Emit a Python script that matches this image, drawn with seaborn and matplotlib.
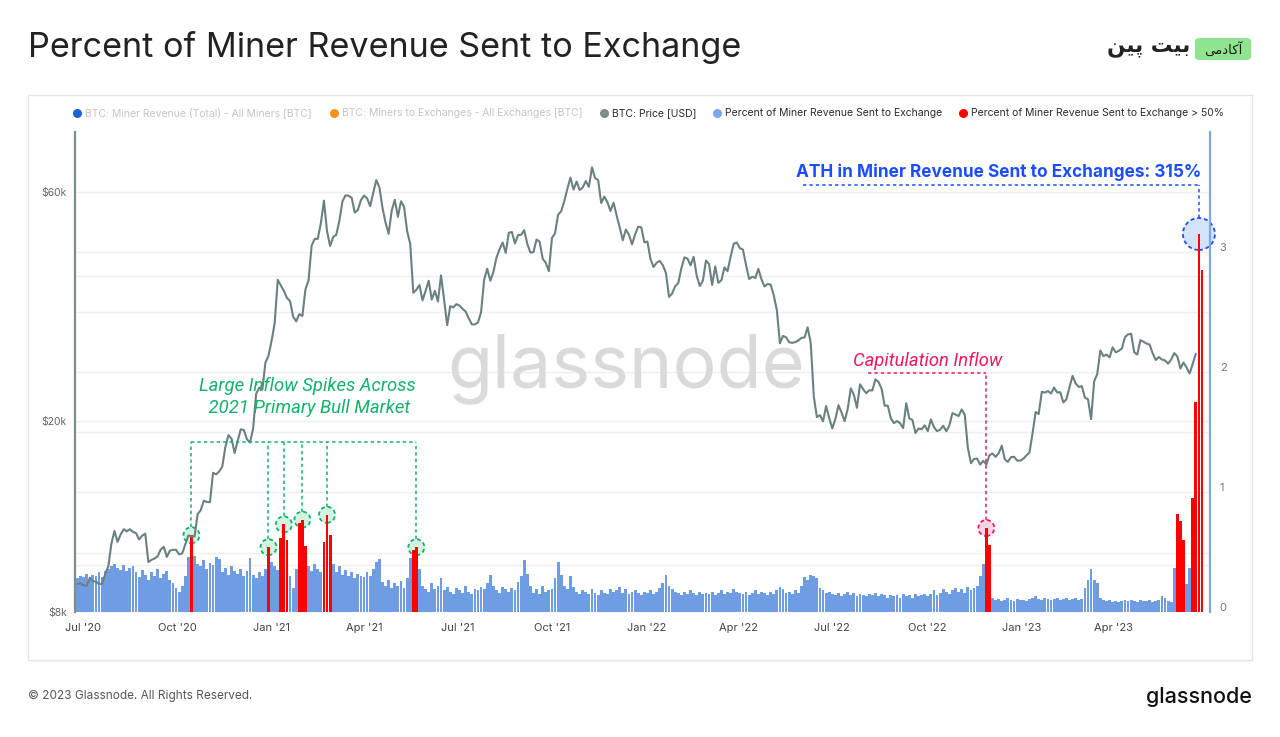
import numpy as np
import pandas as pd
import matplotlib
matplotlib.use("Agg")
import matplotlib.pyplot as plt
import matplotlib.dates as mdates
import matplotlib.transforms as mtransforms
from matplotlib.patches import Circle, FancyBboxPatch, Rectangle
from matplotlib.lines import Line2D
import seaborn as sns

# ---------------- data (3-day samples starting 2020-06-26) ----------------
START = "2020-06-26"
STEP = "3D"

btc_price = [
    9150, 9180,
    9090, 9070, 9430, 9280, 9250, 9150, 9160, 9600, 9950, 11100,
    11800, 11200, 11600, 11900, 11780, 11900, 11750, 11680, 11330, 11540, 11650,
    10170, 10270, 10340, 10450, 10790, 10940, 10420, 10740, 10780, 10780,
    10550, 10600, 11060, 11550, 11500, 11490, 12800, 13030, 13650, 13560,
    13550, 15600, 15480, 15700, 16070, 17650, 18680, 18370, 17150, 18180,
    19220, 19150, 18320, 18040, 19270, 22800, 23480, 23240, 26440, 27360,
    29370, 31970, 39370, 38350, 37320, 36070, 35550, 33000, 32260, 33400, 33100,
    37620, 39260, 46400, 47900, 47940, 51680, 57540, 49700, 46300,
    48370, 48850, 52250, 57330, 59040, 58910, 58340, 54340, 55030, 57700,
    58970, 58200, 56050, 59770, 63500, 61340, 55620, 51760, 49100, 54900,
    57800, 53250, 57360, 55860, 49700, 46760, 37000, 37540, 38400, 35680, 37340,
    39190, 35800, 37340, 35480, 40220, 35800, 31680, 34700, 34480, 35040,
    34790, 34240, 33800, 32730, 31800, 31780, 32100, 33700, 39400, 41500,
    39200, 40870, 43800, 45580, 47080, 44800, 49320, 49530, 46860, 48810,
    48850, 49940, 46800, 44870, 44960, 47750, 47290, 43570, 42700, 41030,
    48100, 49210, 53800, 54700, 57400, 60860, 64300, 60700, 63080, 60600, 61300,
    63230, 61480, 67550, 64150, 63540, 56900, 58700, 57140, 54770, 57000,
    53600, 50580, 47600, 50100, 48880, 46690, 48940, 50800, 50640, 47120,
    47300, 43430, 41860, 42740, 43100, 42200, 40680, 36280, 36850, 38170,
    38740, 41570, 43840, 43570, 42200, 43950, 40120, 38230, 39210, 43190,
    42450, 38420, 41980, 38810, 39280, 41770, 41030, 43970, 46820, 47070,
    45830, 45500, 42280, 39530, 39960, 39710, 41500, 39470, 38120, 38590,
    38470, 36550, 34060, 29030, 30080, 29880, 29180, 29100, 29200, 29440,
    29800, 29860, 31350, 29090, 22480, 20380, 20570, 19970, 21490, 20270,
    19300, 20190, 21580, 20840, 19980, 21190, 23390, 22680, 21300, 23850, 23300,
    22850, 23170, 23160, 24420, 24120, 23350, 21520, 21530, 20260, 19800,
    19990, 19790, 19320, 21770, 20240, 20110, 18880, 19290, 19220, 19590,
    19040, 20150, 19420, 19050, 19180, 19550, 19040, 19570, 20770, 20630,
    20480, 21140, 20600, 17590, 16330, 16670, 16700, 16230, 16520, 16220,
    16970, 17110, 16840, 17130, 17770, 16630, 16440, 16820, 16840, 16540, 16540,
    16680, 16950, 17190, 18850, 20880, 20680, 23000, 22920, 23080, 22830,
    23480, 22930, 22960, 21860, 22200, 23530, 24830, 23940, 23550,
    23640, 22360, 22200, 20180, 24200, 25050, 28040, 27300, 27490, 27140, 28480,
    27800, 28000, 28330, 29900, 30300, 30400, 27820, 27510, 29480, 29250,
    28990, 28860, 27650, 26800, 27180, 26850, 26750, 26330, 26870, 27700,
    27250, 25730, 26480, 25850, 25120, 26340, 27600,
]

pct_sent = [
    0.28, 0.30,
    0.29, 0.32, 0.27, 0.31, 0.30, 0.33, 0.29, 0.34, 0.36, 0.38,
    0.40, 0.37, 0.35, 0.39, 0.34, 0.37, 0.38, 0.33, 0.29, 0.35, 0.31,
    0.27, 0.33, 0.30, 0.36, 0.28, 0.32, 0.34, 0.27, 0.24, 0.20,
    0.17, 0.22, 0.30, 0.46, 0.64, 0.47, 0.40, 0.38, 0.43, 0.36,
    0.41, 0.39, 0.46, 0.44, 0.33, 0.37, 0.31, 0.38, 0.34, 0.32,
    0.36, 0.30, 0.34, 0.45, 0.31, 0.28, 0.33, 0.30, 0.36, 0.54,
    0.42, 0.38, 0.35, 0.62, 0.73, 0.60, 0.30, 0.20, 0.36, 0.74, 0.77,
    0.55, 0.38, 0.34, 0.40, 0.36, 0.33, 0.58, 0.81, 0.64,
    0.40, 0.33, 0.38, 0.31, 0.35, 0.30, 0.33, 0.28, 0.32, 0.30,
    0.29, 0.33, 0.30, 0.36, 0.42, 0.44, 0.25, 0.22, 0.27, 0.20,
    0.24, 0.22, 0.26, 0.20, 0.28, 0.45, 0.52, 0.54, 0.36, 0.22, 0.19,
    0.17, 0.24, 0.19, 0.22, 0.28, 0.18, 0.21, 0.17, 0.15, 0.20,
    0.18, 0.16, 0.22, 0.17, 0.15, 0.19, 0.18, 0.21, 0.19, 0.24,
    0.31, 0.22, 0.18, 0.16, 0.21, 0.19, 0.17, 0.20, 0.18, 0.25,
    0.30, 0.43, 0.32, 0.22, 0.16, 0.19, 0.15, 0.22, 0.17, 0.18,
    0.19, 0.28, 0.42, 0.31, 0.22, 0.19, 0.30, 0.21, 0.17, 0.15, 0.18,
    0.17, 0.15, 0.19, 0.16, 0.14, 0.18, 0.16, 0.15, 0.19, 0.17,
    0.18, 0.21, 0.16, 0.19, 0.15, 0.17, 0.18, 0.16, 0.14, 0.17,
    0.16, 0.18, 0.15, 0.17, 0.20, 0.24, 0.31, 0.22, 0.19, 0.17,
    0.16, 0.14, 0.17, 0.15, 0.18, 0.16, 0.14, 0.17, 0.15, 0.16,
    0.15, 0.17, 0.14, 0.16, 0.18, 0.15, 0.17, 0.16, 0.19, 0.17,
    0.16, 0.15, 0.17, 0.14, 0.16, 0.18, 0.15, 0.17, 0.16, 0.14,
    0.17, 0.15, 0.18, 0.21, 0.19, 0.16, 0.17, 0.15, 0.18, 0.16,
    0.22, 0.29, 0.27, 0.31, 0.30, 0.28, 0.20, 0.18, 0.16, 0.17,
    0.15, 0.14, 0.16, 0.13, 0.15, 0.17, 0.14, 0.16, 0.13, 0.15, 0.14,
    0.13, 0.15, 0.14, 0.16, 0.13, 0.15, 0.14, 0.12, 0.14, 0.13,
    0.14, 0.12, 0.15, 0.13, 0.14, 0.12, 0.15, 0.13, 0.14, 0.15,
    0.13, 0.15, 0.18, 0.14, 0.16, 0.19, 0.17, 0.15, 0.18, 0.20,
    0.17, 0.19, 0.16, 0.21, 0.18, 0.20, 0.22, 0.30, 0.40, 0.70,
    0.56, 0.12, 0.10, 0.11, 0.09, 0.10, 0.12, 0.10, 0.09, 0.11, 0.10,
    0.10, 0.09, 0.11, 0.12, 0.13, 0.11, 0.10, 0.12, 0.11, 0.10,
    0.11, 0.12, 0.10, 0.11, 0.12, 0.10, 0.11, 0.12, 0.10,
    0.11, 0.20, 0.27, 0.36, 0.27, 0.24, 0.12, 0.10, 0.09, 0.10, 0.08,
    0.09, 0.08, 0.09, 0.10, 0.09, 0.10, 0.09, 0.08, 0.10, 0.09,
    0.09, 0.10, 0.08, 0.09, 0.10, 0.13, 0.12, 0.09, 0.08, 0.37,
    0.82, 0.76, 0.60, 0.23, 0.37, 0.95, 1.75, 3.15, 2.85,
]

THRESHOLD = 0.5
price_ticks = [8000, 20000, 60000]
price_tick_labels = ["$8k", "$20k", "$60k"]
price_grid = [10000, 10600, 19000, 20000, 33700, 40000, 60000]
pct_ticks = [0, 1, 2, 3]
x_tick_dates = pd.date_range("2020-07-01", "2023-04-01", freq="QS")

legend_labels = [
    "BTC: Miner Revenue (Total) - All Miners [BTC]",
    "BTC: Miners to Exchanges - All Exchanges [BTC]",
    "BTC: Price [USD]",
    "Percent of Miner Revenue Sent to Exchange",
    "Percent of Miner Revenue Sent to Exchange > 50%",
]
bull_spike_dates = ["2020-10-15", "2020-12-29", "2021-01-13", "2021-01-31", "2021-02-24", "2021-05-22"]
capitulation_date = "2022-11-28"

price_dates = pd.date_range(START, periods=len(btc_price), freq=STEP)
pct_dates = pd.date_range(START, periods=len(pct_sent), freq=STEP)

# ---------------- style ----------------
sns.set_theme(style="white")
plt.rcParams["font.family"] = ["Inter", "DejaVu Sans"]

BLUE = "#6f9de3"
RED = "#ff0000"
PRICE_C = "#6b8081"
GRID_C = "#efefef"
GREEN = "#14b16b"
PINK = "#f0195c"
ATH_BLUE = "#1a4fff"

W, H = 1280, 737
fig = plt.figure(figsize=(12.8, 7.37), dpi=100)
fig.patch.set_facecolor("white")


def fx(px):
    return px / W


def fy(py):
    return 1 - py / H


# outer container
fig.patches.append(Rectangle((fx(28), fy(660)), fx(1252) - fx(28), fy(95) - fy(660),
                             transform=fig.transFigure, fill=False, edgecolor="#e4e4e4", lw=1))

PL, PR, PT, PB = 75, 1210, 132, 612
ax_bar = fig.add_axes([fx(PL), fy(PB), fx(PR) - fx(PL), fy(PT) - fy(PB)])
ax_price = ax_bar.twinx()
ax_price.set_zorder(ax_bar.get_zorder() + 1)
ax_price.patch.set_visible(False)

# bars
vals = np.array(pct_sent)
colors = np.where(vals > THRESHOLD, RED, BLUE)
ax_bar.bar(pct_dates, vals, width=2.75, color=colors, linewidth=0, zorder=2)
ax_bar.set_ylim(0, 4)

# price line
sns.lineplot(x=price_dates, y=btc_price, ax=ax_price, color=PRICE_C, linewidth=1.5)
ax_price.set_yscale("log")
ax_price.set_ylim(8000, 80000)

xmin = pd.Timestamp("2020-06-23 14:00")
xmax = pd.Timestamp("2023-07-03 19:00")
ax_bar.set_xlim(xmin, xmax)

# grid
for v in pct_ticks[1:]:
    ax_bar.axhline(v, color=GRID_C, lw=1, zorder=0.5)
gtrans = mtransforms.blended_transform_factory(ax_bar.transAxes, ax_price.transData)
for v in price_grid:
    ax_bar.plot([0, 1], [v, v], transform=gtrans, color=GRID_C, lw=1, zorder=0.5)
ax_bar.set_ylim(0, 4)

# ticks
ax_price.yaxis.tick_left()
ax_price.yaxis.set_label_position("left")
ax_price.yaxis.set_major_locator(matplotlib.ticker.FixedLocator(price_ticks))
ax_price.yaxis.set_major_formatter(matplotlib.ticker.FixedFormatter(price_tick_labels))
ax_price.yaxis.set_minor_locator(matplotlib.ticker.NullLocator())
ax_price.tick_params(axis="y", length=0, labelsize=7.5, labelcolor="#666666", pad=6)
ax_price.set_ylabel("")
ax_price.set_xlabel("")

ax_bar.yaxis.tick_right()
ax_bar.set_yticks(pct_ticks)
ax_bar.set_yticklabels([str(t) for t in pct_ticks])
ax_bar.tick_params(axis="y", length=0, labelsize=8, labelcolor="#777777", pad=7)
up = mtransforms.ScaledTranslation(0, 5 / 100.0, fig.dpi_scale_trans)
for lbl in ax_bar.get_yticklabels():
    lbl.set_transform(lbl.get_transform() + up)
ax_bar.set_xticks(x_tick_dates)
ax_bar.xaxis.set_major_formatter(mdates.DateFormatter("%b '%y"))
ax_bar.tick_params(axis="x", length=0, labelsize=8, labelcolor="#444444", pad=8)
ax_bar.set_xlim(xmin, xmax)

for ax in (ax_bar, ax_price):
    for s in ax.spines.values():
        s.set_visible(False)
ax_price.spines["left"].set_visible(True)
ax_price.spines["left"].set_color("#7d8e8f")
ax_price.spines["left"].set_linewidth(1.6)
ax_bar.spines["right"].set_visible(True)
ax_bar.spines["right"].set_color("#7ea6e8")
ax_bar.spines["right"].set_linewidth(1.6)

# watermark
ax_bar.text(fx(626), fy(369), "glassnode", transform=fig.transFigure, fontsize=53,
            color="#dadada", ha="center", va="center", zorder=1)

# ---------------- annotations ----------------
px_per_unit = (PB - PT) / 4.0


def ring(date, val, r_px, face, edge):
    xn = mdates.date2num(pd.Timestamp(date))
    tr = fig.dpi_scale_trans + mtransforms.ScaledTranslation(xn, val, ax_bar.transData)
    c = Circle((0, 0), r_px / 100.0, transform=tr, facecolor=face, edgecolor=edge,
               lw=1.3, linestyle=(0, (2.2, 1.6)), zorder=1.5, clip_on=False)
    ax_bar.add_artist(c)


def dline(xs, ys, color):
    ax_price.plot(xs, ys, transform=ax_bar.transData, color=color, lw=1.1,
                  linestyle=(0, (2.2, 2.0)), zorder=5, clip_on=False)


series = pd.Series(vals, index=pct_dates)

# green bracket
GREEN_LEVEL = (PB - 442) / px_per_unit
spike_ts = [pd.Timestamp(d) for d in bull_spike_dates]
dline([spike_ts[0], spike_ts[-1]], [GREEN_LEVEL, GREEN_LEVEL], GREEN)
for t in spike_ts:
    v = series.loc[t]
    dline([t, t], [v + 8 / px_per_unit, GREEN_LEVEL], GREEN)
    ring(t, v, 8, "#d3f3e2", GREEN)
fig.text(fx(307), fy(397), "Large Inflow Spikes Across\n 2021 Primary Bull Market",
         ha="center", va="center", fontsize=13.3, color=GREEN, style="italic",
         family=["Roboto", "DejaVu Sans"], linespacing=1.25)

# capitulation
cap_t = pd.Timestamp(capitulation_date)
cap_v = series.loc[cap_t]
CAP_LEVEL = (PB - 373) / px_per_unit
cap_start = pd.Timestamp("2022-08-05")
dline([cap_start, cap_t], [CAP_LEVEL, CAP_LEVEL], PINK)
dline([cap_t, cap_t], [cap_v + 8 / px_per_unit, CAP_LEVEL], PINK)
ring(cap_t, cap_v, 8, "#fbd3df", PINK)
fig.text(fx(853), fy(361), "Capitulation Inflow", ha="left", va="center", fontsize=13.2,
         color=PINK, style="italic", family=["Roboto", "DejaVu Sans"])

# ATH
ath_i = int(np.argmax(vals))
ath_t = pct_dates[ath_i]
ath_v = vals[ath_i]
ATH_LEVEL = (PB - 185) / px_per_unit
ath_start = pd.Timestamp("2022-06-02")
dline([ath_start, ath_t], [ATH_LEVEL, ATH_LEVEL], ATH_BLUE)
dline([ath_t, ath_t], [ath_v + 16 / px_per_unit, ATH_LEVEL], ATH_BLUE)
ring(ath_t, ath_v, 16, "#d4e2fb", ATH_BLUE)
fig.text(fx(1201), fy(172), f"ATH in Miner Revenue Sent to Exchanges: {ath_v * 100:.0f}%",
         ha="right", va="center", fontsize=12.4, color=ATH_BLUE, fontweight="bold")

# ---------------- legend ----------------
leg_dot_x = [77, 334, 604, 717, 963]
leg_txt_x = [85, 342, 612, 725, 971]
leg_dot_c = ["#1a63d6", "#f7931a", "#7f8c8d", "#7ba7ec", RED]
leg_txt_c = ["#c4c4c4", "#c4c4c4", "#2b2b2b", "#2b2b2b", "#2b2b2b"]
for lab, dx, tx, dc, tc in zip(legend_labels, leg_dot_x, leg_txt_x, leg_dot_c, leg_txt_c):
    fig.add_artist(Line2D([fx(dx)], [fy(113)], marker="o", markersize=5.5, color=dc,
                          linestyle="none", transform=fig.transFigure))
    fig.text(fx(tx), fy(113), lab, ha="left", va="center", fontsize=7.5, color=tc)

# ---------------- titles / branding ----------------
fig.text(fx(28), fy(48), "Percent of Miner Revenue Sent to Exchange", ha="left", va="center",
         fontsize=24.6, color="#222222")
fig.text(fx(28), fy(696), "\u00a9 2023 Glassnode. All Rights Reserved.", ha="left", va="center",
         fontsize=8.5, color="#555555")
fig.text(fx(1252), fy(697), "glassnode", ha="right", va="center", fontsize=15.5,
         color="#111111", fontweight="medium")

# Persian logo (presentation forms, visual order)
fig.patches.append(FancyBboxPatch((fx(1195), fy(60)), fx(1251) - fx(1195), fy(38) - fy(60),
                                  boxstyle="round,pad=0,rounding_size=0.004",
                                  transform=fig.transFigure, facecolor="#8fe48f",
                                  edgecolor="none"))
fig.text(fx(1223), fy(49), "\uFBFD\uFEE3\uFEA9\uFE8E\uFB90\uFE81", ha="center", va="center",
         fontsize=9.5, color="#1a1a1a", family=["DejaVu Sans"])
fig.text(fx(1149), fy(47), "\uFEE6\uFBFF\uFB58 \uFE96\uFBFF\uFE91", ha="center", va="center",
         fontsize=15.5, color="#222222", fontweight="bold", family=["DejaVu Sans"])

fig.savefig("out.png", dpi=100, facecolor="white")
